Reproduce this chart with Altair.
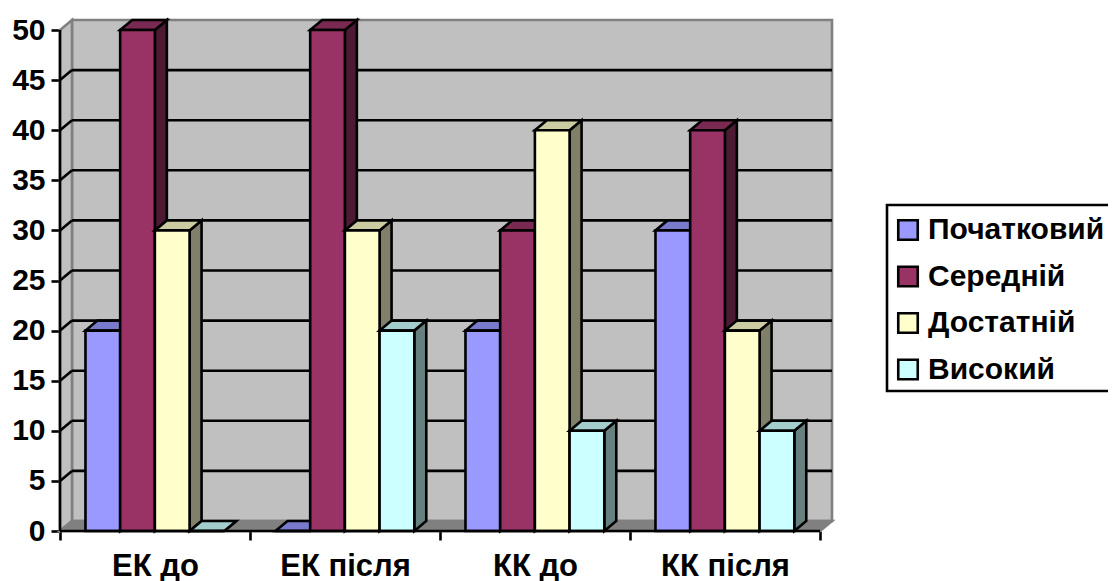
import altair as alt
import pandas as pd

categories = ["ЕК до", "ЕК після", "КК до", "КК після"]
series = ["Початковий", "Середній", "Достатній", "Високий"]
values = {
    "Початковий": [20, 0, 20, 30],
    "Середній": [50, 50, 30, 40],
    "Достатній": [30, 30, 40, 20],
    "Високий": [0, 20, 10, 10],
}
front = ["#9999FF", "#993366", "#FFFFCC", "#CCFFFF"]
top = ["#7A7ACC", "#7A2952", "#CCCCA3", "#A3CCCC"]
side = ["#4D4D80", "#4D1A33", "#80806A", "#668080"]
y_ticks = list(range(0, 51, 5))

FONT = "Liberation Sans"
DX = 12 / 190.25   # depth in category units
DY = 1             # depth in value units
BW = 34.75 / 190.25
GAP = 25.5 / 190.25
LW = 2.6

xs = alt.Scale(domain=[0, 4 + DX], nice=False, zero=False)
ys = alt.Scale(domain=[0, 50 + DY], nice=False, zero=False)

x_axis = alt.Axis(
    values=[i / 2 for i in range(2 * len(categories) + 1)],
    labelExpr="datum.value % 1 == 0 ? '' : " + str(categories) + "[floor(datum.value)]",
    tickOpacity={"condition": {"test": "datum.value % 1 != 0", "value": 0}, "value": 1},
    domain=False,
    grid=False,
    tickSize=9,
    tickWidth=LW,
    tickColor="black",
    labelFont=FONT,
    labelFontWeight="bold",
    labelFontSize=31,
    labelColor="black",
    labelPadding=11,
    labelFlush=False,
    labelOverlap=False,
    title=None,
)
y_axis = alt.Axis(
    values=y_ticks,
    domain=False,
    grid=False,
    tickSize=9,
    tickWidth=LW,
    tickColor="black",
    labelFont=FONT,
    labelFontWeight="bold",
    labelFontSize=30,
    labelColor="black",
    labelPadding=6,
    labelFlush=False,
    labelOverlap=False,
    title=None,
)
X = alt.X("x:Q", scale=xs, axis=x_axis)
Y = alt.Y("y:Q", scale=ys, axis=y_axis)


def area(rows, fill, stroke=None, sw=LW, detail=False):
    kw = {"fill": fill, "opacity": 1}
    if stroke:
        kw.update(stroke=stroke, strokeWidth=sw, strokeJoin="miter")
    enc = dict(x=X, y=Y, y2="y2:Q")
    if detail:
        enc["detail"] = "k:N"
    return alt.Chart(pd.DataFrame(rows)).mark_area(**kw).encode(**enc)


def rows_para(k, xa, xb, lo, hi):
    """slanted face: xa..xb front edge, receding by DX, DY"""
    return [
        dict(k=k, x=xa, y=lo, y2=lo),
        dict(k=k, x=xa + DX, y=lo, y2=lo + DY),
        dict(k=k, x=xb, y=lo, y2=lo + DY),
        dict(k=k, x=xb + DX, y=lo + DY, y2=lo + DY),
    ]


layers = []

# walls and floor
layers.append(
    alt.Chart(pd.DataFrame([dict(x=DX, x2=4 + DX, y=DY, y2=50 + DY)]))
    .mark_rect(fill="#C0C0C0", stroke="#808080", strokeWidth=LW)
    .encode(x=X, x2="x2:Q", y=Y, y2="y2:Q")
)
layers.append(
    area(
        [dict(x=0, y=0, y2=50), dict(x=DX, y=DY, y2=50 + DY)],
        "#C0C0C0",
        "#808080",
    )
)
layers.append(area(rows_para("floor", 0, 4, 0, 0), "#808080", "#808080"))

# gridlines on the back wall and the slanted part on the side wall
grid = [t for t in y_ticks if 0 < t < 50]
layers.append(
    alt.Chart(pd.DataFrame({"y": [t + DY for t in grid], "x": [DX] * len(grid), "x2": [4 + DX] * len(grid)}))
    .mark_rule(color="black", strokeWidth=LW)
    .encode(x=X, x2="x2:Q", y=Y)
)
slant = []
for t in grid:
    slant += [dict(k=t, x=0, y=t), dict(k=t, x=DX, y=t + DY)]
layers.append(
    alt.Chart(pd.DataFrame(slant))
    .mark_line(color="black", strokeWidth=LW)
    .encode(x=X, y=Y, detail="k:N")
)

# axis line
layers.append(
    alt.Chart(pd.DataFrame({"x": [0], "y": [0], "y2": [50]}))
    .mark_rule(color="black", strokeWidth=LW)
    .encode(x=X, y=Y, y2="y2:Q")
)

# bars: left to right, so each bar hides what it should
for si, name in enumerate(series):
    side_rows, top_rows, front_rows = [], [], []
    for ci, cat in enumerate(categories):
        v = values[name][ci]
        x0 = ci + GAP + si * BW
        x1 = x0 + BW
        side_rows += [dict(k=cat, x=x1, y=0, y2=v), dict(k=cat, x=x1 + DX, y=DY, y2=v + DY)]
        top_rows += rows_para(cat, x0, x1, v, v)
        front_rows.append(dict(series=name, x=x0, x2=x1, y=0, y2=v))
    layers.append(area(side_rows, side[si], "black", detail=True))
    layers.append(area(top_rows, top[si], "black", detail=True))
    layers.append(
        alt.Chart(pd.DataFrame(front_rows))
        .mark_rect(stroke="black", strokeWidth=LW, opacity=1)
        .encode(
            x=X,
            x2="x2:Q",
            y=Y,
            y2="y2:Q",
            color=alt.Color(
                "series:N",
                scale=alt.Scale(domain=series, range=front),
                legend=alt.Legend(
                    title=" ",
                    titleFontSize=3,
                    titlePadding=1,
                    orient="none",
                    legendX=827,
                    legendY=185,
                    symbolType="square",
                    symbolSize=380,
                    symbolStrokeColor="black",
                    symbolStrokeWidth=LW,
                    labelFont=FONT,
                    labelFontWeight="bold",
                    labelFontSize=30,
                    labelColor="black",
                    labelOffset=5,
                    labelLimit=400,
                    rowPadding=16.5,
                    padding=6,
                    fillColor="white",
                    strokeColor="black",
                ),
            ),
        )
    )

# x axis line, above the floor and the bar bases
layers.append(
    alt.Chart(pd.DataFrame({"x": [0], "x2": [4], "y": [0]}))
    .mark_rule(color="black", strokeWidth=LW)
    .encode(x=X, x2="x2:Q", y=Y)
)

chart = (
    alt.layer(*layers)
    .properties(
        width=772,
        height=511,
        autosize=alt.AutoSizeParams(type="none"),
        padding={"left": 52, "top": 12, "right": 276, "bottom": 50},
    )
    .configure_view(stroke=None)
    .configure_legend(strokeWidth=LW)
)

chart.save("out.html", embed_options={"renderer": "svg", "actions": False})
